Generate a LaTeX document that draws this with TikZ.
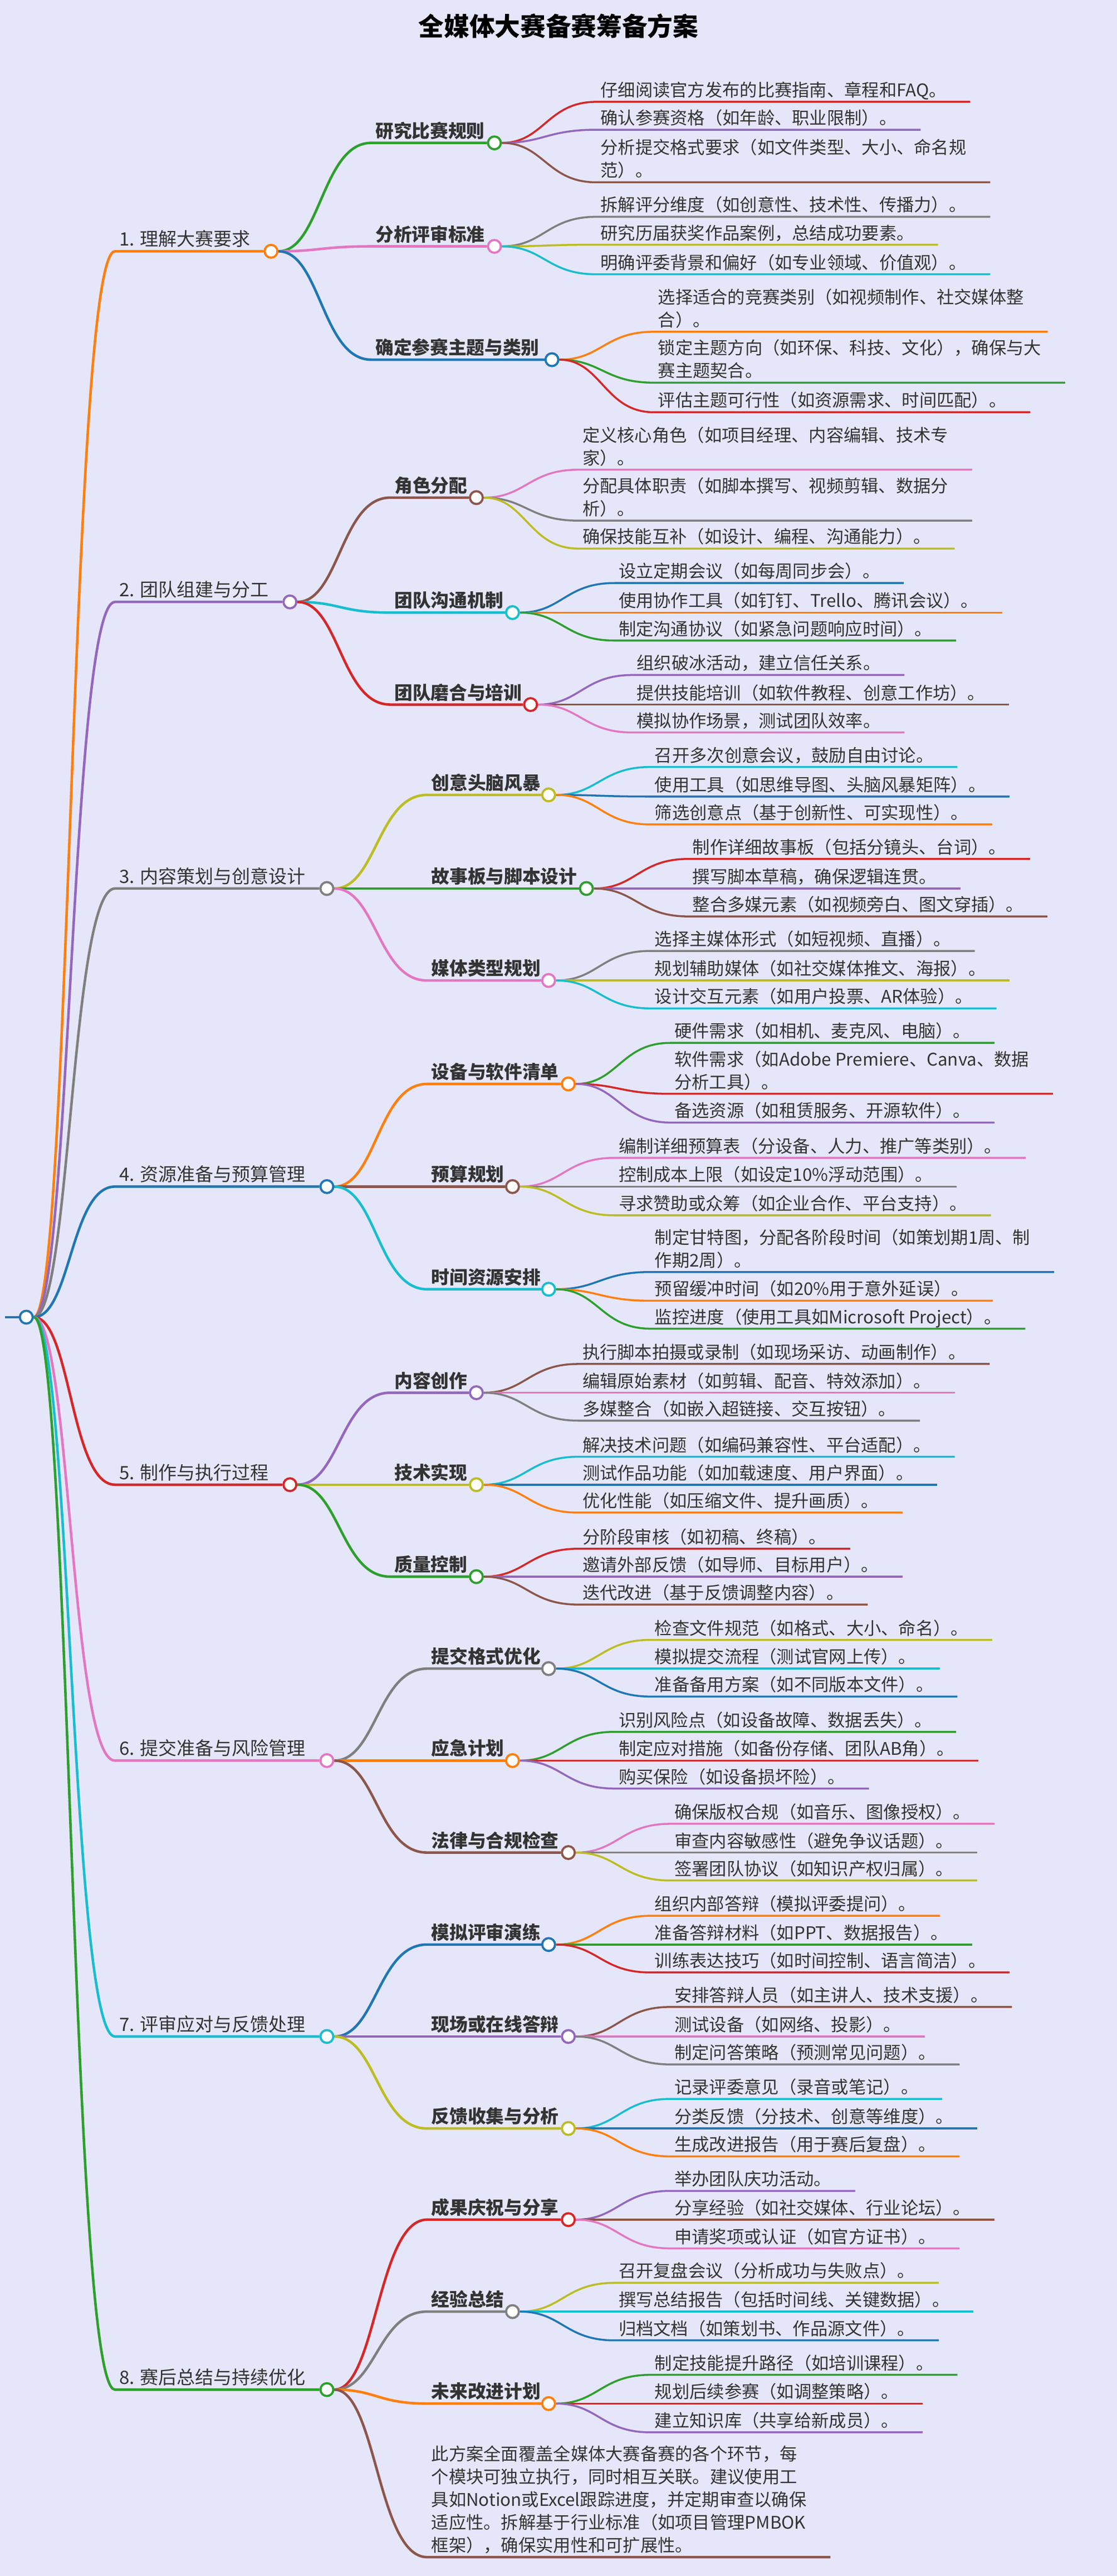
\documentclass[tikz,border=0pt]{standalone}
\usepackage{fontspec}
\setmainfont{Noto Sans CJK SC}
\usepackage{tikz}
\usetikzlibrary{calc,backgrounds,positioning}

\definecolor{tab0}{HTML}{1F77B4}
\definecolor{tab1}{HTML}{FF7F0E}
\definecolor{tab2}{HTML}{2CA02C}
\definecolor{tab3}{HTML}{D62728}
\definecolor{tab4}{HTML}{9467BD}
\definecolor{tab5}{HTML}{8C564B}
\definecolor{tab6}{HTML}{E377C2}
\definecolor{tab7}{HTML}{7F7F7F}
\definecolor{tab8}{HTML}{BCBD22}
\definecolor{tab9}{HTML}{17BECF}
\definecolor{paper}{RGB}{230,230,250}
\definecolor{ink}{HTML}{333333}

\newcount\colno \colno=0
\newcount\leafno \leafno=0
\newcommand\nextcol{\global\advance\colno by 1 \ifnum\colno>9 \global\colno=0 \fi}

\tikzset{
  x=0.0295cm,y=-0.0295cm,
  lvlone/.style={anchor=south west,inner xsep=2pt,inner ysep=2.5pt,text depth=0pt,
    text=ink,font=\fontsize{9.4pt}{11.7pt}\selectfont},
  lvltwo/.style={lvlone,font=\fontsize{9.3pt}{11.7pt}\selectfont\bfseries},
  leaftext/.style={lvlone,align=left,font=\fontsize{8.9pt}{11.7pt}\selectfont},
  knot/.style={circle,fill=white,line width=1.1pt,minimum size=0.23cm,inner sep=0pt},
  branch/.style={line width=1.3pt},
  twig/.style={line width=1pt},
}

% first level
\newcommand\topic[4]{%
  \nextcol
  \node[lvlone] (#1-t) at (70,#3) {#4};
  \node[knot,draw=tab\the\colno] (#1) at (#2,#3) {};
  \begin{scope}[on background layer]
    \draw[branch,tab\the\colno] (root) .. controls +(27,0) and +(-27,0) .. (#1-t.south west) -- (#1);
  \end{scope}
  \gdef\parname{#1}\gdef\parx{#2}}
% second level
\newcommand\subtopic[4]{%
  \nextcol
  \node[lvltwo] (#1-t) at (\parx+61,#3) {#4};
  \node[knot,draw=tab\the\colno] (#1) at (#2,#3) {};
  \begin{scope}[on background layer]
    \draw[branch,tab\the\colno] (\parname) .. controls +(30,0) and +(-30,0) .. (#1-t.south west) -- (#1);
  \end{scope}
  \gdef\subname{#1}\gdef\subx{#2}}
% leaves
\newcommand\leaf[2]{%
  \nextcol \global\advance\leafno by 1
  \node[leaftext] (leaf\the\leafno) at (\subx+62,#1) {#2};
  \begin{scope}[on background layer]
    \draw[twig,tab\the\colno] (\subname) .. controls +(30,0) and +(-30,0) .. (leaf\the\leafno.south west) -- ([xshift=10pt]leaf\the\leafno.south east);
  \end{scope}}

\begin{document}
\begin{tikzpicture}
  \begin{scope}[on background layer]
    \fill[paper] (0,0) rectangle (680,1568.5);
  \end{scope}
  \useasboundingbox (0,0) rectangle (680,1568.5);

  \node[font=\fontsize{13pt}{15pt}\selectfont\bfseries] (title) at (340,16) {全媒体大赛备赛筹备方案};

  \node[knot,draw=tab0] (root) at (16,802) {};
  \coordinate (stub) at (3,802);
  \begin{scope}[on background layer]
    \draw[branch,tab0] (stub) -- (root);
  \end{scope}

  \topic{t1}{165}{153}{1. 理解大赛要求}
  \subtopic{s1a}{301}{87}{研究比赛规则}
  \leaf{62}{仔细阅读官方发布的比赛指南、章程和FAQ。}
  \leaf{79}{确认参赛资格（如年龄、职业限制）。}
  \leaf{111}{分析提交格式要求（如文件类型、大小、命名规\\范）。}
  \subtopic{s1b}{301}{150}{分析评审标准}
  \leaf{132}{拆解评分维度（如创意性、技术性、传播力）。}
  \leaf{149}{研究历届获奖作品案例，总结成功要素。}
  \leaf{167}{明确评委背景和偏好（如专业领域、价值观）。}
  \subtopic{s1c}{336}{219}{确定参赛主题与类别}
  \leaf{202}{选择适合的竞赛类别（如视频制作、社交媒体整\\合）。}
  \leaf{233}{锁定主题方向（如环保、科技、文化），确保与大\\赛主题契合。}
  \leaf{251}{评估主题可行性（如资源需求、时间匹配）。}

  \topic{t2}{176.5}{366.5}{2. 团队组建与分工}
  \subtopic{s2a}{290}{303}{角色分配}
  \leaf{286}{定义核心角色（如项目经理、内容编辑、技术专\\家）。}
  \leaf{317}{分配具体职责（如脚本撰写、视频剪辑、数据分\\析）。}
  \leaf{334}{确保技能互补（如设计、编程、沟通能力）。}
  \subtopic{s2b}{312}{373}{团队沟通机制}
  \leaf{355}{设立定期会议（如每周同步会）。}
  \leaf{373}{使用协作工具（如钉钉、Trello、腾讯会议）。}
  \leaf{390}{制定沟通协议（如紧急问题响应时间）。}
  \subtopic{s2c}{323}{429}{团队磨合与培训}
  \leaf{411}{组织破冰活动，建立信任关系。}
  \leaf{429}{提供技能培训（如软件教程、创意工作坊）。}
  \leaf{446}{模拟协作场景，测试团队效率。}

  \topic{t3}{199}{541}{3. 内容策划与创意设计}
  \subtopic{s3a}{334}{484}{创意头脑风暴}
  \leaf{467}{召开多次创意会议，鼓励自由讨论。}
  \leaf{485}{使用工具（如思维导图、头脑风暴矩阵）。}
  \leaf{502}{筛选创意点（基于创新性、可实现性）。}
  \subtopic{s3b}{357}{541}{故事板与脚本设计}
  \leaf{523}{制作详细故事板（包括分镜头、台词）。}
  \leaf{541}{撰写脚本草稿，确保逻辑连贯。}
  \leaf{558}{整合多媒元素（如视频旁白、图文穿插）。}
  \subtopic{s3c}{334}{597}{媒体类型规划}
  \leaf{579}{选择主媒体形式（如短视频、直播）。}
  \leaf{597}{规划辅助媒体（如社交媒体推文、海报）。}
  \leaf{614}{设计交互元素（如用户投票、AR体验）。}

  \topic{t4}{199}{722.5}{4. 资源准备与预算管理}
  \subtopic{s4a}{346}{660}{设备与软件清单}
  \leaf{635}{硬件需求（如相机、麦克风、电脑）。}
  \leaf{666}{软件需求（如Adobe Premiere、Canva、数据\\分析工具）。}
  \leaf{683.5}{备选资源（如租赁服务、开源软件）。}
  \subtopic{s4b}{312}{722.5}{预算规划}
  \leaf{705}{编制详细预算表（分设备、人力、推广等类别）。}
  \leaf{722.5}{控制成本上限（如设定10\%浮动范围）。}
  \leaf{740}{寻求赞助或众筹（如企业合作、平台支持）。}
  \subtopic{s4c}{334}{785}{时间资源安排}
  \leaf{774.5}{制定甘特图，分配各阶段时间（如策划期1周、制\\作期2周）。}
  \leaf{792}{预留缓冲时间（如20\%用于意外延误）。}
  \leaf{809}{监控进度（使用工具如Microsoft Project）。}

  \topic{t5}{176.5}{904}{5. 制作与执行过程}
  \subtopic{s5a}{290}{848}{内容创作}
  \leaf{830.5}{执行脚本拍摄或录制（如现场采访、动画制作）。}
  \leaf{848}{编辑原始素材（如剪辑、配音、特效添加）。}
  \leaf{865}{多媒整合（如嵌入超链接、交互按钮）。}
  \subtopic{s5b}{290}{904}{技术实现}
  \leaf{887}{解决技术问题（如编码兼容性、平台适配）。}
  \leaf{904}{测试作品功能（如加载速度、用户界面）。}
  \leaf{921}{优化性能（如压缩文件、提升画质）。}
  \subtopic{s5c}{290}{960}{质量控制}
  \leaf{943}{分阶段审核（如初稿、终稿）。}
  \leaf{960}{邀请外部反馈（如导师、目标用户）。}
  \leaf{977}{迭代改进（基于反馈调整内容）。}

  \topic{t6}{199}{1072}{6. 提交准备与风险管理}
  \subtopic{s6a}{334}{1016}{提交格式优化}
  \leaf{998.5}{检查文件规范（如格式、大小、命名）。}
  \leaf{1016}{模拟提交流程（测试官网上传）。}
  \leaf{1033}{准备备用方案（如不同版本文件）。}
  \subtopic{s6b}{312}{1072}{应急计划}
  \leaf{1054.5}{识别风险点（如设备故障、数据丢失）。}
  \leaf{1072}{制定应对措施（如备份存储、团队AB角）。}
  \leaf{1089}{购买保险（如设备损坏险）。}
  \subtopic{s6c}{346}{1128}{法律与合规检查}
  \leaf{1110.5}{确保版权合规（如音乐、图像授权）。}
  \leaf{1128}{审查内容敏感性（避免争议话题）。}
  \leaf{1145}{签署团队协议（如知识产权归属）。}

  \topic{t7}{199}{1240}{7. 评审应对与反馈处理}
  \subtopic{s7a}{334}{1184}{模拟评审演练}
  \leaf{1166.5}{组织内部答辩（模拟评委提问）。}
  \leaf{1184}{准备答辩材料（如PPT、数据报告）。}
  \leaf{1201}{训练表达技巧（如时间控制、语言简洁）。}
  \subtopic{s7b}{346}{1240}{现场或在线答辩}
  \leaf{1222}{安排答辩人员（如主讲人、技术支援）。}
  \leaf{1240}{测试设备（如网络、投影）。}
  \leaf{1257}{制定问答策略（预测常见问题）。}
  \subtopic{s7c}{346}{1296}{反馈收集与分析}
  \leaf{1278}{记录评委意见（录音或笔记）。}
  \leaf{1296}{分类反馈（分技术、创意等维度）。}
  \leaf{1313}{生成改进报告（用于赛后复盘）。}

  \topic{t8}{199}{1455}{8. 赛后总结与持续优化}
  \subtopic{s8a}{346}{1351.5}{成果庆祝与分享}
  \leaf{1334}{举办团队庆功活动。}
  \leaf{1351.5}{分享经验（如社交媒体、行业论坛）。}
  \leaf{1369}{申请奖项或认证（如官方证书）。}
  \subtopic{s8b}{312}{1407.5}{经验总结}
  \leaf{1390}{召开复盘会议（分析成功与失败点）。}
  \leaf{1407.5}{撰写总结报告（包括时间线、关键数据）。}
  \leaf{1425}{归档文档（如策划书、作品源文件）。}
  \subtopic{s8c}{334}{1463.5}{未来改进计划}
  \leaf{1446}{制定技能提升路径（如培训课程）。}
  \leaf{1463.5}{规划后续参赛（如调整策略）。}
  \leaf{1481}{建立知识库（共享给新成员）。}

  % closing note under the last topic
  \nextcol
  \node[leaftext] (note) at (260,1557) {此方案全面覆盖全媒体大赛备赛的各个环节，每\\个模块可独立执行，同时相互关联。建议使用工\\具如Notion或Excel跟踪进度，并定期审查以确保\\适应性。拆解基于行业标准（如项目管理PMBOK\\框架），确保实用性和可扩展性。};
  \begin{scope}[on background layer]
    \draw[branch,tab\the\colno] (t8) .. controls +(30,0) and +(-30,0) .. (note.south west) -- ([xshift=10pt]note.south east);
  \end{scope}
\end{tikzpicture}
\end{document}
